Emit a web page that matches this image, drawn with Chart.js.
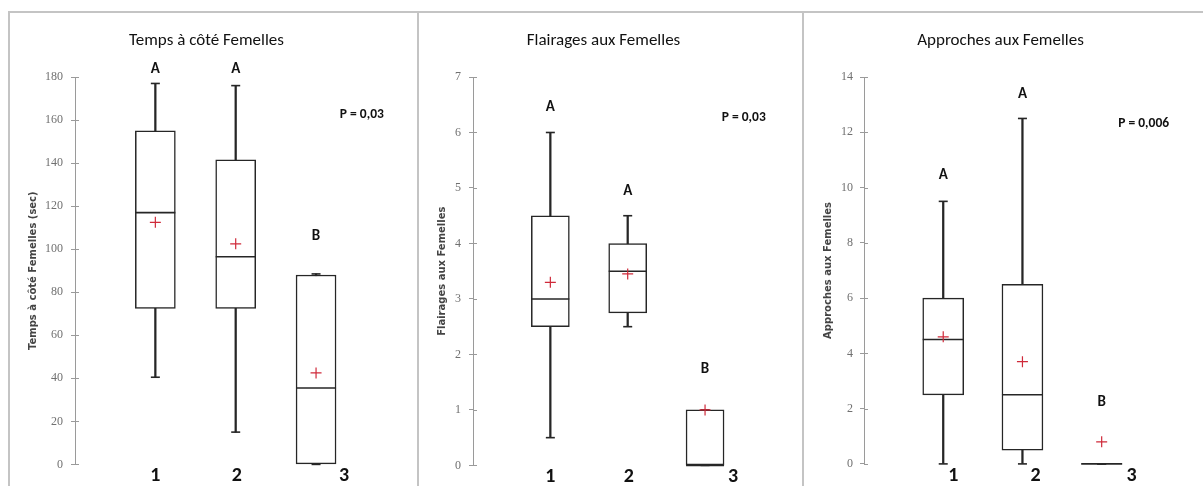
<!DOCTYPE html>
<html><head><meta charset="utf-8">
<script src="https://cdn.jsdelivr.net/npm/chart.js@4.4.1/dist/chart.umd.min.js"></script>
<style>
html,body{margin:0;padding:0;background:#fff;width:1203px;height:486px;overflow:hidden;}
.panel{position:absolute;top:11px;border-left:2px solid #c4c4c4;border-top:2px solid #c4c4c4;}
canvas{display:block;}
</style></head><body>
<div class="panel" style="left:8px"><canvas id="c1" width="408" height="473"></canvas></div>
<div class="panel" style="left:417px"><canvas id="c2" width="384" height="473"></canvas></div>
<div class="panel" style="left:802px"><canvas id="c3" width="399" height="473"></canvas></div>
<script>
// ---- data ----
const categories = ['1', '2', '3'];
const groupPositions = [1, 2, 3];

// Temps à côté Femelles (sec)
const tempsMin    = [40.5, 15, 0];
const tempsQ1     = [72.5, 72.5, 0];
const tempsMedian = [117, 96.5, 35.5];
const tempsQ3     = [155, 141.5, 88];
const tempsMax    = [177, 176, 88.5];
const tempsMean   = [112.5, 102.5, 42.5];
const tempsLetters = ['A', 'A', 'B'];
const tempsP = 'P = 0,03';

// Flairages aux Femelles
const flairMin    = [0.5, 2.5, 0];
const flairQ1     = [2.5, 2.75, 0];
const flairMedian = [3, 3.5, 0];
const flairQ3     = [4.5, 4, 1];
const flairMax    = [6, 4.5, 1];
const flairMean   = [3.3, 3.45, 1];
const flairLetters = ['A', 'A', 'B'];
const flairP = 'P = 0,03';

// Approches aux Femelles
const approMin    = [0, 0, 0];
const approQ1     = [2.5, 0.5, 0];
const approMedian = [4.5, 2.5, 0];
const approQ3     = [6, 6.5, 0];
const approMax    = [9.5, 12.5, 0];
const approMean   = [4.6, 3.7, 0.8];
const approLetters = ['A', 'A', 'B'];
const approP = 'P = 0,006';

// ---- drawing ----
const TEXT_FONT = 'Carlito, Calibri, Lato, sans-serif';

const boxAnnotations = {
  id: 'boxAnnotations',
  afterDatasetsDraw(chart, args, opts) {
    const {ctx} = chart;
    const x = chart.scales.x, y = chart.scales.y;
    ctx.save();
    // tick marks crossing into the plot side of the axis
    ctx.strokeStyle = '#9a9a9a';
    ctx.lineWidth = 1;
    ctx.beginPath();
    y.ticks.forEach(t => {
      const py = Math.round(y.getPixelForValue(t.value)) + 0.5;
      ctx.moveTo(y.right, py);
      ctx.lineTo(y.right + 4, py);
    });
    ctx.stroke();
    // significance letters
    ctx.fillStyle = '#111';
    ctx.textAlign = 'center';
    ctx.textBaseline = 'middle';
    ctx.font = 'bold 15px ' + TEXT_FONT;
    opts.letters.forEach((t, i) => {
      ctx.fillText(t, x.getPixelForValue(groupPositions[i]), y.getPixelForValue(opts.letterY[i]));
    });
    // p-value
    ctx.font = 'bold 13.5px ' + TEXT_FONT;
    ctx.fillText(opts.pText, x.getPixelForValue(opts.pPos[0]), y.getPixelForValue(opts.pPos[1]));
    // group labels
    ctx.font = 'bold 20px ' + TEXT_FONT;
    ctx.textBaseline = 'alphabetic';
    categories.forEach((c, i) => {
      ctx.fillText(c, x.getPixelForValue(groupPositions[i]) + opts.labelOffsets[i], y.bottom + 17);
    });
    ctx.restore();
  }
};

function makeBoxChart(id, s) {
  const pts = vals => vals.map((v, i) => ({x: groupPositions[i], y: v}));
  const ranges = (a, b) => a.map((v, i) => ({x: groupPositions[i], y: [v, b[i]]}));
  const lineDark = '#262626';
  return new Chart(document.getElementById(id), {
    type: 'bar',
    data: {
      datasets: [
        {type: 'line', label: 'Moyenne', data: pts(s.mean), showLine: false, pointStyle: 'cross',
         pointRadius: 5.5, pointBorderColor: '#cf2a3a', pointBackgroundColor: '#cf2a3a', pointBorderWidth: 1.2, order: 1, clip: false},
        {type: 'line', label: 'Médiane', data: pts(s.median), showLine: false, pointStyle: 'line',
         pointRadius: s.boxWidth / 2, pointBorderColor: lineDark, pointBorderWidth: 1.6, order: 2, clip: false},
        {type: 'line', label: 'Min', data: pts(s.min), showLine: false, pointStyle: 'line',
         pointRadius: 4.5, pointBorderColor: lineDark, pointBorderWidth: 1.6, order: 3, clip: false},
        {type: 'line', label: 'Max', data: pts(s.max), showLine: false, pointStyle: 'line',
         pointRadius: 4.5, pointBorderColor: lineDark, pointBorderWidth: 1.6, order: 3, clip: false},
        {type: 'bar', label: 'Boîte', data: ranges(s.q1, s.q3), backgroundColor: '#ffffff',
         borderColor: lineDark, borderWidth: 1.5, borderSkipped: false, barThickness: s.boxWidth,
         grouped: false, order: 4, clip: false},
        {type: 'bar', label: 'Moustaches', data: ranges(s.min, s.max), backgroundColor: lineDark,
         borderWidth: 0, barThickness: 1.6, grouped: false, order: 5, clip: false}
      ]
    },
    options: {
      responsive: false,
      animation: false,
      events: [],
      layout: {padding: {left: 0, right: s.padRight, top: 0, bottom: 15}},
      scales: {
        x: {type: 'linear', min: 0, max: 4, offset: false, display: false},
        y: {
          type: 'linear', min: 0, max: s.yMax,
          afterFit: sc => { sc.width = s.axisWidth; },
          border: {display: true, color: '#9a9a9a', width: 1},
          grid: {display: true, drawOnChartArea: false, drawTicks: true, tickLength: 4, color: '#9a9a9a', lineWidth: 1},
          ticks: {stepSize: s.step, padding: s.tickPad, color: '#707070',
                  font: {family: '"Liberation Serif", serif', size: 12}},
          title: {display: true, text: s.yTitle, color: '#444',
                  font: {family: '"DejaVu Sans", sans-serif', size: 10, weight: 'bold', lineHeight: 1.2},
                  padding: {top: s.yTitlePad, bottom: 0}}
        }
      },
      plugins: {
        legend: {display: false},
        tooltip: {enabled: false},
        title: {display: true, text: s.title, color: '#111',
                font: {family: TEXT_FONT, size: 17, weight: 'normal', lineHeight: 1},
                padding: {top: 19.5, bottom: 27.5}},
        boxAnnotations: {letters: s.letters, letterY: s.letterY, pText: s.pText, pPos: s.pPos,
                         labelOffsets: s.labelOffsets}
      }
    },
    plugins: [boxAnnotations]
  });
}

makeBoxChart('c1', {
  title: 'Temps à côté Femelles', yTitle: 'Temps à côté Femelles (sec)',
  min: tempsMin, q1: tempsQ1, median: tempsMedian, q3: tempsQ3, max: tempsMax, mean: tempsMean,
  letters: tempsLetters, pText: tempsP,
  yMax: 180, step: 20, boxWidth: 40, axisWidth: 65, padRight: 15, tickPad: 8, yTitlePad: 17,
  letterY: [183.8, 183.8, 106.1], pPos: [3.57, 162.6], labelOffsets: [0, 1, 28]
});
makeBoxChart('c2', {
  title: 'Flairages aux Femelles', yTitle: 'Flairages aux Femelles',
  min: flairMin, q1: flairQ1, median: flairMedian, q3: flairQ3, max: flairMax, mean: flairMean,
  letters: flairLetters, pText: flairP,
  yMax: 7, step: 1, boxWidth: 38, axisWidth: 54, padRight: 15, tickPad: 8, yTitlePad: 17,
  letterY: [6.46, 4.94, 1.74], pPos: [3.5, 6.27], labelOffsets: [0, 1, 28]
});
makeBoxChart('c3', {
  title: 'Approches aux Femelles', yTitle: 'Approches aux Femelles',
  min: approMin, q1: approQ1, median: approMedian, q3: approQ3, max: approMax, mean: approMean,
  letters: approLetters, pText: approP,
  yMax: 14, step: 2, boxWidth: 41, axisWidth: 60, padRight: 6, tickPad: 7, yTitlePad: 18,
  letterY: [10.43, 13.39, 2.22], pPos: [3.53, 12.3], labelOffsets: [10, 13, 30]
});
</script>
</body></html>
